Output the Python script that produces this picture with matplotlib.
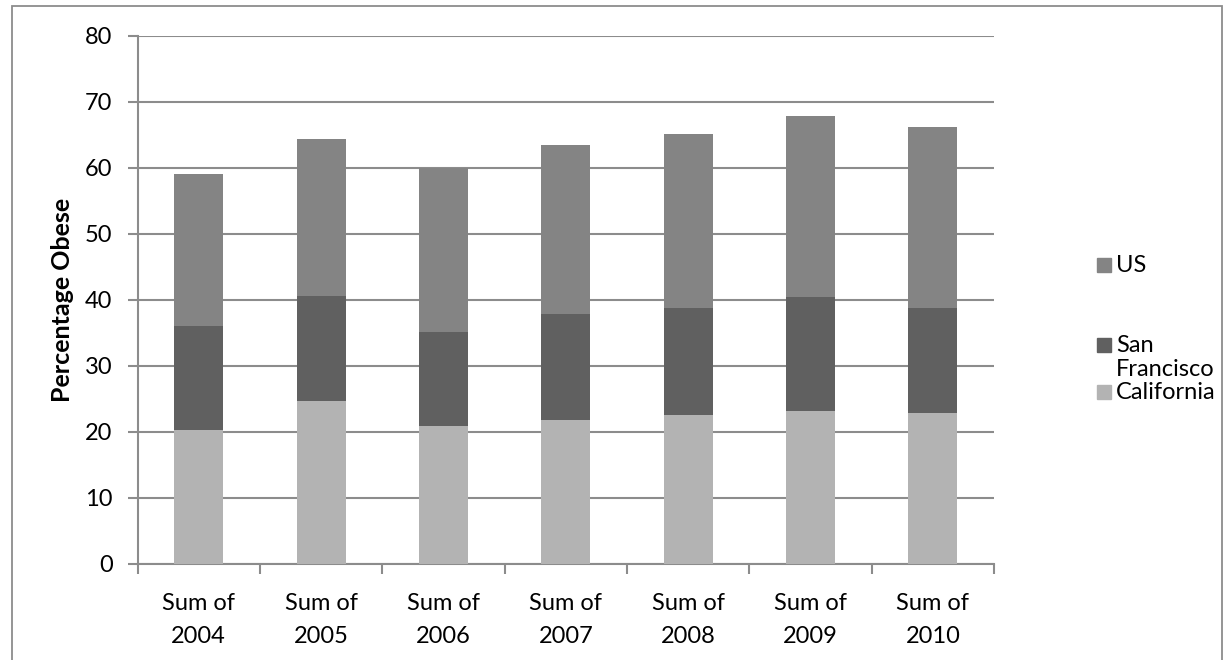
import matplotlib.pyplot as plt
import numpy as np
from matplotlib.patches import Rectangle

plt.rcParams['font.family'] = ['Lato', 'DejaVu Sans']

# Data
years = ['2004', '2005', '2006', '2007', '2008', '2009', '2010']
california = [20.3, 24.7, 20.8, 21.7, 22.5, 23.2, 22.9]
san_francisco = [15.7, 15.8, 14.3, 16.1, 16.2, 17.2, 15.9]
us = [23.0, 23.9, 24.9, 25.6, 26.4, 27.5, 27.4]

labels = ['Sum of\n' + y for y in years]
colors = {'US': '#848484', 'San Francisco': '#606060', 'California': '#b3b3b3'}
grid_color = '#8c8c8c'
fs = 17

fig = plt.figure(figsize=(12.29, 6.6), dpi=100)
ax = fig.add_axes([0.1119, 0.1462, 0.6969, 0.7993])

x = np.arange(len(years))
cal = np.array(california)
sf = np.array(san_francisco)
w = 0.4
ax.bar(x, cal, w, color=colors['California'], zorder=3)
ax.bar(x, sf, w, bottom=cal, color=colors['San Francisco'], zorder=3)
ax.bar(x, us, w, bottom=cal + sf, color=colors['US'], zorder=3)

ax.set_xlim(-0.5, len(years) - 0.5)
ax.set_ylim(0, 80)
ax.set_yticks(range(0, 81, 10))
ax.yaxis.grid(True, color=grid_color, linewidth=1.5, zorder=0)

# category labels between boundary ticks
ax.set_xticks(np.arange(-0.5, len(years)), minor=False)
ax.set_xticklabels([])
ax.set_xticks(x, minor=True)
ax.set_xticklabels(labels, minor=True, fontsize=fs, linespacing=1.7)
ax.tick_params(axis='x', which='minor', length=0, pad=21)
ax.tick_params(axis='x', which='major', length=7, width=1.5, color=grid_color)
ax.tick_params(axis='y', length=7, width=1.5, color=grid_color, labelsize=fs, pad=11)

for side in ['top', 'right']:
    ax.spines[side].set_visible(False)
for side in ['left', 'bottom']:
    ax.spines[side].set_color(grid_color)
    ax.spines[side].set_linewidth(1.5)

ax.set_ylabel('Percentage Obese', fontsize=18, fontweight='bold')
ax.yaxis.set_label_coords(-0.074, 0.5)

# legend, laid out like the Excel one
handles = [(colors['US'], 265), (colors['San Francisco'], 345), (colors['California'], 392)]
for c, ypx in handles:
    yf = 1 - ypx / 660
    fig.patches.append(Rectangle((1097 / 1229, yf - 7 / 660), 14 / 1229, 14 / 660,
                                 transform=fig.transFigure, color=c))
legend_text = [('US', 265), ('San', 345), ('Francisco', 369), ('California', 392)]
for text, ypx in legend_text:
    fig.text(1116 / 1229, 1 - ypx / 660, text, fontsize=fs, va='center')

# outer chart frame
fig.patches.append(Rectangle((12 / 1229, -0.1), 1210 / 1229, 1.1 - 6 / 660,
                             transform=fig.transFigure, fill=False,
                             edgecolor='#8c8c8c', linewidth=1.3))

fig.savefig('out.png', dpi=100)
